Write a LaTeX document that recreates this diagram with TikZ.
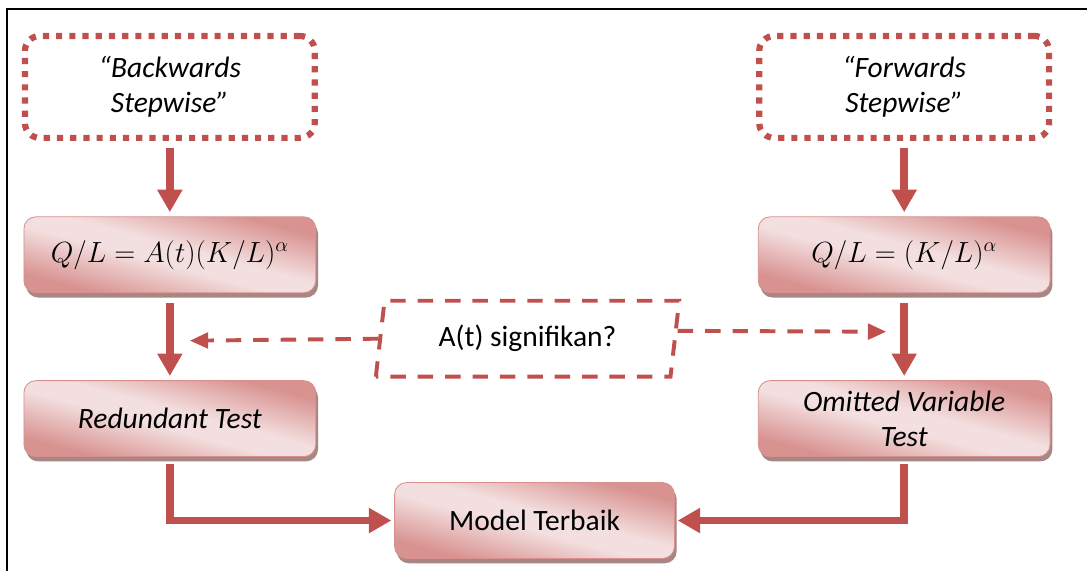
\documentclass[tikz,border=0pt]{standalone}
\usepackage{fontspec}
\setmainfont{Carlito}
\usetikzlibrary{calc,positioning,shapes,shadows,arrows.meta}
\usepackage{amsmath,amssymb}
\usepackage{xcolor}

\definecolor{arrowred}{HTML}{C0504D}
\definecolor{boxdark}{HTML}{D89391}
\definecolor{boxlight}{HTML}{F3DFDF}
\definecolor{boxedge}{HTML}{D7908E}
\definecolor{boxshadow}{HTML}{A88684}

% soft band across the boxes, dark only towards two corners
\pgfdeclareverticalshading{boxshade}{100bp}{color(0bp)=(boxdark); color(27bp)=(boxdark);
  color(46bp)=(boxlight); color(54bp)=(boxlight); color(73bp)=(boxdark); color(100bp)=(boxdark)}

\begin{document}
\begin{tikzpicture}[x=0.025cm,y=-0.025cm]
\tikzstyle{stepbox}=[draw=arrowred, line width=4.4pt, dash pattern=on 4.4pt off 5pt,
  rounded corners=0.37cm, minimum width=7.25cm, minimum height=2.55cm, align=center,
  font=\fontsize{21}{24.5}\selectfont\itshape]
\tikzstyle{modelbox}=[draw=boxedge, line width=0.6pt, rounded corners=0.3cm,
  shading=boxshade, shading angle=-15,
  general shadow={fill=boxshadow, shadow xshift=1.6pt, shadow yshift=-3.4pt},
  minimum width=7.3cm, minimum height=1.9cm, align=center, font=\fontsize{21}{25}\selectfont]
\tikzstyle{askbox}=[draw=arrowred, line width=2.8pt, dash pattern=on 11pt off 8.5pt,
  trapezium, trapezium left angle=81, trapezium right angle=99, trapezium stretches=true,
  minimum width=7.6cm, minimum height=1.9cm, font=\fontsize{21}{24}\selectfont]
\tikzstyle{flow}=[draw=arrowred, line width=5.6pt, -{Triangle[length=16pt,width=17pt]}]
\tikzstyle{askflow}=[draw=arrowred, line width=2.8pt, dash pattern=on 11pt off 8.5pt,
  -{Triangle[length=13pt,width=11pt]}]

% frame
\draw[line width=1.4pt] (7,572) -- (7,9) -- (1088,9);
\useasboundingbox (0,0) rectangle (1088,572);

% left branch
\node[stepbox] (BS) at (170,87) {“Backwards\\Stepwise”};
\node[modelbox] (QA) at (170,255) {$Q/L = A(t)(K/L)^{\alpha}$};
\node[modelbox] (RT) at (170,419) {\itshape Redundant Test};

% right branch
\node[stepbox] (FS) at (905,87) {“Forwards\\Stepwise”};
\node[modelbox] (QB) at (905,255) {$Q/L = (K/L)^{\alpha}$};
\node[modelbox] (OV) at (905,419) {\itshape Omitted Variable\\\itshape Test};

\node[modelbox, minimum width=7cm] (MT) at (535,521) {Model Terbaik};
\node[askbox] (P) at (528,339) {A(t) signifikan?};

\coordinate (Lin) at (190,341);
\coordinate (Rin) at (887,332);

\foreach \i/\j in {BS/QA,FS/QB}{\draw[flow, shorten <=5pt, shorten >=3pt] (\i) -- (\j);}
\foreach \i/\j in {QA/RT,QB/OV}{\draw[flow, shorten <=7pt, shorten >=3pt] (\i) -- (\j);}
\draw[flow, shorten <=5pt, shorten >=2pt] (RT.south) |- (MT.west);
\draw[flow, shorten <=5pt, shorten >=2pt] (OV.south) |- (MT.east);

\draw[askflow] (P.west) -- (Lin);
\draw[askflow] (P.3) -- (Rin);
\end{tikzpicture}
\end{document}
